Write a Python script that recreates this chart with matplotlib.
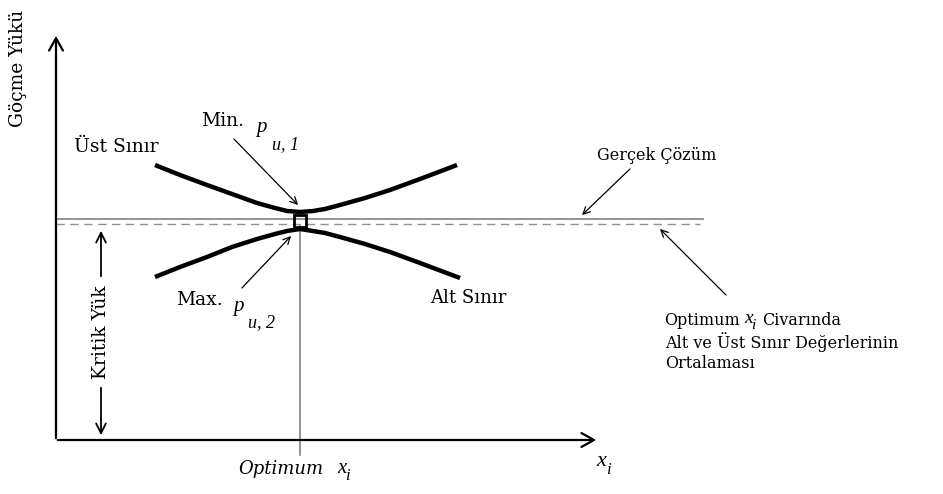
import matplotlib
matplotlib.use("Agg")
import matplotlib.pyplot as plt

# Diagram geometry (pixel coordinates, y downward)
upper_x = [155, 180, 207, 232, 257, 275, 287, 300, 313, 325, 340, 365, 390, 420, 457]
upper_y = [165, 175, 185, 194, 203, 208, 211, 212, 211, 209, 205, 198, 190, 179, 165]
lower_x = [155, 180, 207, 232, 257, 275, 287, 300, 313, 325, 340, 365, 390, 420, 460]
lower_y = [277, 267, 257, 247, 239, 234, 231, 229, 231, 233, 237, 244, 252, 263, 278]
true_y = 219
mean_y = 224
opt_x = 300

fig = plt.figure(figsize=(9.43, 4.94), dpi=100)
ax = fig.add_axes([0, 0, 1, 1])
ax.set_xlim(0, 943)
ax.set_ylim(494, 0)
ax.axis("off")

serif = "DejaVu Serif"
times = "Liberation Serif"
fs = 11
fr = 11.5
fl = 13.5


def txt(x, y, s, size, family=serif, style="normal", **kw):
    ax.text(x, y, s, ha=kw.pop("ha", "left"), va="center", fontsize=size,
            family=family, style=style, **kw)


# axes with open arrows
ax.annotate("", xy=(56, 33), xytext=(56, 441),
            arrowprops=dict(arrowstyle="->,head_length=0.9,head_width=0.5", lw=1.6, color="black"))
ax.annotate("", xy=(599, 440), xytext=(55, 440),
            arrowprops=dict(arrowstyle="->,head_length=0.9,head_width=0.5", lw=1.6, color="black"))

# true solution line and mean dashed line
ax.plot([56, 703], [true_y, true_y], color="#808080", lw=1.2)
ax.plot([56, 700], [mean_y, mean_y], color="#909090", lw=1.0, dashes=(6, 4))

# optimum vertical line
ax.plot([opt_x, opt_x], [226, 455], color="#808080", lw=1.2)

# bounds
ax.plot(upper_x, upper_y, color="black", lw=3.2, solid_capstyle="butt", solid_joinstyle="round")
ax.plot(lower_x, lower_y, color="black", lw=3.2, solid_capstyle="butt", solid_joinstyle="round")

# small square at optimum
ax.plot([opt_x], [(true_y + mean_y) / 2 - 0.5], marker="s", ms=8.5, mfc="none", mec="black", mew=2.0)

# Kritik Yük double arrow
ax.annotate("", xy=(101, 228), xytext=(101, 279),
            arrowprops=dict(arrowstyle="->,head_length=0.7,head_width=0.35", lw=1.3, color="black"))
ax.annotate("", xy=(101, 438), xytext=(101, 385),
            arrowprops=dict(arrowstyle="->,head_length=0.7,head_width=0.35", lw=1.3, color="black"))
txt(101, 332, "Kritik Yük", fl, rotation=90, ha="center")

# labels
txt(18, 68, "Göçme Yükü", fl, rotation=90, ha="center")
txt(74, 147, "Üst Sınır", fl)
txt(201, 121, "Min.", fl)
txt(256, 127, "p", fs + 4, family=times, style="italic")
txt(272, 145, "u, 1", fs + 2, family=times, style="italic")
txt(176, 300, "Max.", fl)
txt(233, 306, "p", fs + 4, family=times, style="italic")
txt(248, 323, "u, 2", fs + 2, family=times, style="italic")
txt(430, 298, "Alt Sınır", 13)
txt(597, 155, "Gerçek Çözüm", fr)

# annotation block at right
txt(664, 320, "Optimum", fr)
txt(744, 318, "x", fs + 3, family=times, style="italic")
txt(751, 325, "i", fs, family=times, style="italic")
txt(762, 320, "Civarında", fr)
txt(665, 342, "Alt ve Üst Sınır Değerlerinin", fr)
txt(665, 363, "Ortalaması", fr)

# x-axis labels
txt(238, 469, "Optimum", 13, style="italic")
txt(337, 468, "x", fs + 4, family=times, style="italic")
txt(345, 476, "i", fs + 1, family=times, style="italic")
txt(596, 461, "x", fs + 5, family=times, style="italic")
txt(606, 470, "i", fs + 1, family=times, style="italic")

# pointer arrows
arrow_kw = dict(arrowstyle="->,head_length=0.5,head_width=0.25", lw=0.9, color="black")
ax.annotate("", xy=(300, 207), xytext=(232, 137), arrowprops=arrow_kw)
ax.annotate("", xy=(293, 234), xytext=(240, 290), arrowprops=arrow_kw)
ax.annotate("", xy=(580, 217), xytext=(632, 167), arrowprops=arrow_kw)
ax.annotate("", xy=(658, 227), xytext=(728, 297), arrowprops=arrow_kw)

fig.savefig("out.png", dpi=100)
